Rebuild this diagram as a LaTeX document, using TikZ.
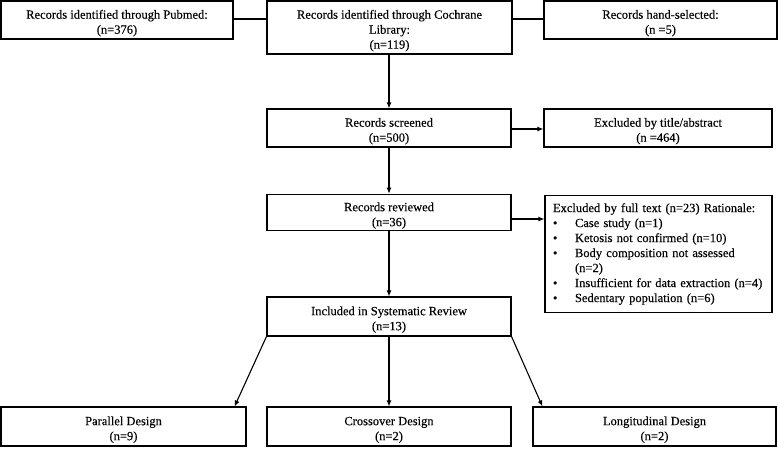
\documentclass[tikz,border=0pt]{standalone}
\usepackage{fontspec}
\setmainfont[FakeBold=0.3]{Liberation Serif}
\usetikzlibrary{arrows.meta}
\newcommand{\topstrut}{\rule{0pt}{15pt}}
\begin{document}
\begin{tikzpicture}[x=1pt,y=-1pt,
  box/.style={draw, line width=1.1pt, align=center, inner sep=2pt,
    font=\fontsize{12.5}{15}\selectfont},
  arr/.style={line width=1.1pt, -{Latex[length=6pt,width=5pt]}},
  conn/.style={line width=1.1pt}]
\useasboundingbox (0,0) rectangle (778,448);
% top row
\node[box, minimum width=232pt, minimum height=38pt] (pub) at (117,20)
  {\topstrut Records identified through Pubmed:\\(n=376)};
\node[box, minimum width=245pt, minimum height=53pt] (coch) at (389.5,27.5)
  {\topstrut Records identified through Cochrane\\Library:\\(n=119)};
\node[box, minimum width=233pt, minimum height=38pt] (hand) at (660.5,20)
  {\topstrut Records hand-selected:\\(n =5)};
% middle
\node[box, minimum width=244pt, minimum height=38pt] (scr) at (389,128)
  {\topstrut Records screened\\(n=500)};
\node[box, minimum width=228pt, minimum height=38pt] (exta) at (658,128)
  {\topstrut Excluded by title/abstract\\(n =464)};
\node[box, minimum width=244pt, minimum height=33pt] (rev) at (389,212.5)
  {\topstrut Records reviewed\\(n=36)};
\node[box, align=left, text width=211pt, inner xsep=8pt, minimum height=117pt] (exft) at (658.5,254)
  {Excluded by full text (n=23) Rationale:\\
   \makebox[22pt][l]{•}Case study (n=1)\\
   \makebox[22pt][l]{•}Ketosis not confirmed (n=10)\\
   \makebox[22pt][l]{•}Body composition not assessed\\
   \hspace*{22pt}(n=2)\\
   \makebox[22pt][l]{•}Insufficient for data extraction (n=4)\\
   \makebox[22pt][l]{•}Sedentary population (n=6)};
\node[box, minimum width=244pt, minimum height=39pt] (inc) at (389,316.5)
  {\topstrut Included in Systematic Review\\(n=13)};
% bottom row
\node[box, minimum width=245pt, minimum height=39pt] (par) at (123.5,426.5)
  {\topstrut Parallel Design\\(n=9)};
\node[box, minimum width=244pt, minimum height=39pt] (cross) at (389,426.5)
  {\topstrut Crossover Design\\(n=2)};
\node[box, minimum width=243pt, minimum height=39pt] (longi) at (654.5,426.5)
  {\topstrut Longitudinal Design\\(n=2)};
% connectors
\draw[conn] ([yshift=1pt]pub.east) -- ([yshift=1pt]pub.east -| coch.west);
\draw[conn] ([yshift=1pt]hand.west) -- ([yshift=1pt]hand.west -| coch.east);
\draw[arr] (scr.north |- coch.south) -- (scr.north);
\draw[arr] ([yshift=-1pt]scr.east) -- ([yshift=-1pt]scr.east -| exta.west);
\draw[arr] (scr.south) -- (rev.north);
\draw[arr] ([yshift=-6.5pt]rev.east) -- ([yshift=-6.5pt]rev.east -| exft.west);
\draw[arr] (rev.south) -- (inc.north);
\draw[arr] (inc.south west) -- ([xshift=-12pt]par.north east);
\draw[arr] (inc.south) -- (cross.north);
\draw[arr] (inc.south east) -- ([xshift=10pt]longi.north west);
\end{tikzpicture}
\end{document}
